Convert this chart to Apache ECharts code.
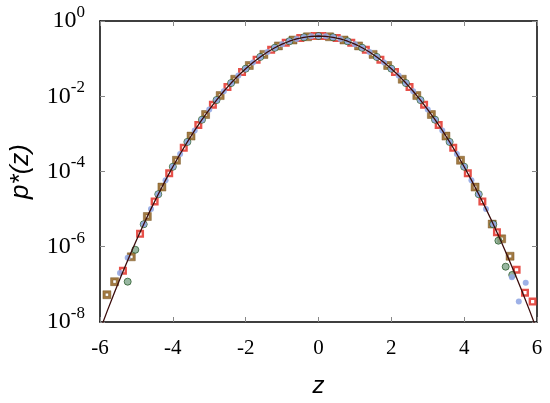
<!DOCTYPE html>
<html>
<head>
<meta charset="utf-8">
<script src="https://cdn.jsdelivr.net/npm/echarts@6/dist/echarts.min.js"></script>
<style>html,body{margin:0;padding:0;background:#fff}#c{width:550px;height:403px}</style>
</head>
<body>
<div id="c"></div>
<script>
// Theoretical curve p*(z)
const lineZ = [-6.0,-5.8,-5.6,-5.4,-5.2,-5.0,-4.8,-4.6,-4.4,-4.2,-4.0,-3.8,-3.6,-3.4,-3.2,-3.0,-2.8,-2.6,-2.4,-2.2,-2.0,-1.8,-1.6,-1.4,-1.2,-1.0,-0.8,-0.6,-0.4,-0.2,0.0,0.2,0.4,0.6,0.8,1.0,1.2,1.4,1.6,1.8,2.0,2.2,2.4,2.6,2.8,3.0,3.2,3.4,3.6,3.8,4.0,4.2,4.4,4.6,4.8,5.0,5.2,5.4,5.6,5.8,6.0];
const lineP = [6.076e-9,1.974e-8,6.176e-8,1.856e-7,5.361e-7,1.487e-6,3.961e-6,1.014e-5,2.494e-5,5.894e-5,1.338e-4,2.920e-4,6.119e-4,1.232e-3,2.384e-3,4.432e-3,7.916e-3,1.358e-2,2.240e-2,3.548e-2,5.399e-2,7.895e-2,0.1109,0.1497,0.1942,0.2420,0.2897,0.3332,0.3683,0.3910,0.3989,0.3910,0.3683,0.3332,0.2897,0.2420,0.1942,0.1497,0.1109,7.895e-2,5.399e-2,3.548e-2,2.240e-2,1.358e-2,7.916e-3,4.432e-3,2.384e-3,1.232e-3,6.119e-4,2.920e-4,1.338e-4,5.894e-5,2.494e-5,1.014e-5,3.961e-6,1.487e-6,5.361e-7,1.856e-7,6.176e-8,1.974e-8,6.076e-9];

// Red squares
const redZ = [-5.37,-4.9,-4.5,-4.1,-3.7,-3.3,-2.9,-2.5,-2.1,-1.7,-1.3,-0.9,-0.5,-0.1,0.1,0.5,0.9,1.3,1.7,2.1,2.5,2.9,3.3,3.7,4.1,4.5,4.9,5.44,5.67,5.88];
const redP = [2.3e-7,2.2e-6,1.60e-5,8.93e-5,4.25e-4,1.72e-3,5.95e-3,0.0175,0.0440,0.0940,0.1714,0.2661,0.3521,0.3970,0.3970,0.3521,0.2661,0.1714,0.0940,0.0440,0.0175,5.95e-3,1.72e-3,4.25e-4,8.93e-5,1.60e-5,2.44e-6,2.45e-7,6.0e-8,3.5e-8];

// Brown squares
const brownZ = [-5.81,-5.6,-5.14,-4.7,-4.3,-3.9,-3.5,-3.1,-2.7,-2.3,-1.9,-1.5,-1.1,-0.7,-0.3,0.3,0.7,1.1,1.5,1.9,2.3,2.7,3.1,3.5,3.9,4.3,4.77,5.03,5.26];
const brownP = [5.3e-8,1.18e-7,5.4e-7,6.37e-6,3.85e-5,1.99e-4,8.73e-4,3.27e-3,0.01042,0.02833,0.06562,0.1295,0.2179,0.3123,0.3814,0.3814,0.3123,0.2179,0.1295,0.06562,0.02833,0.01042,3.27e-3,8.73e-4,1.99e-4,3.85e-5,4.0e-6,1.62e-6,5.6e-7];

// Green circles
const greenZ = [-5.24,-5.03,-4.8,-4.4,-4.0,-3.6,-3.2,-2.8,-2.4,-2.0,-1.6,-1.2,-0.8,-0.4,0.0,0.4,0.8,1.2,1.6,2.0,2.4,2.8,3.2,3.6,4.0,4.4,4.8,4.94,5.14,5.32];
const greenP = [1.18e-7,8.3e-7,3.96e-6,2.49e-5,1.338e-4,6.12e-4,2.384e-3,7.92e-3,0.02240,0.05399,0.1109,0.1942,0.2897,0.3683,0.3989,0.3683,0.2897,0.1942,0.1109,0.05399,0.02240,7.92e-3,2.384e-3,6.12e-4,1.338e-4,2.49e-5,3.96e-6,1.45e-6,2.95e-7,1.78e-7];

// Light blue dots
const blueZ = [-5.45,-5.24,-4.8,-4.6,-4.4,-4.2,-4.0,-3.8,-3.6,-3.4,-3.2,-3.0,-2.8,-2.6,-2.4,-2.2,-2.0,-1.8,-1.6,-1.4,-1.2,-1.0,-0.8,-0.6,-0.4,-0.2,0.0,0.2,0.4,0.6,0.8,1.0,1.2,1.4,1.6,1.8,2.0,2.2,2.4,2.6,2.8,3.0,3.2,3.4,3.6,3.8,4.0,4.2,4.4,4.6,4.8,5.31,5.5,5.69];
const blueP = [2.0e-7,5.1e-7,3.96e-6,1.014e-5,2.49e-5,5.89e-5,1.338e-4,2.92e-4,6.12e-4,1.232e-3,2.384e-3,4.432e-3,7.92e-3,0.01358,0.02240,0.03548,0.05399,0.07895,0.1109,0.1497,0.1942,0.2420,0.2897,0.3332,0.3683,0.3910,0.3989,0.3910,0.3683,0.3332,0.2897,0.2420,0.1942,0.1497,0.1109,0.07895,0.05399,0.03548,0.02240,0.01358,7.92e-3,4.432e-3,2.384e-3,1.232e-3,6.12e-4,2.92e-4,1.338e-4,5.89e-5,2.49e-5,1.014e-5,3.96e-6,1.55e-7,3.5e-8,1.1e-7];

const xTicks = [-6,-4,-2,0,2,4,6];

const pairs = (zs, ps) => zs.map((z, i) => [z, ps[i]]);
const hollowSquare = 'path://M0,0H10V10H0Z M3,3V7H7V3Z';

const chart = echarts.init(document.getElementById('c'), null, {renderer: 'canvas'});
const serif = '"Liberation Serif", serif';
const sans = '"Liberation Sans", sans-serif';

const xBase = {
  type: 'value', min: -6, max: 6, interval: 2,
  axisLine: {show: true, onZero: false, lineStyle: {color: '#000', width: 1.5}},
  axisTick: {show: true, inside: true, length: 5, lineStyle: {color: '#888', width: 1}},
  splitLine: {show: false}
};
const yBase = {
  type: 'log', logBase: 10, min: 1e-8, max: 1, interval: 2,
  axisLine: {show: true, onZero: false, lineStyle: {color: '#000', width: 1.5}},
  axisTick: {show: true, inside: true, length: 5, lineStyle: {color: '#888', width: 1}},
  minorTick: {show: false},
  splitLine: {show: false}
};

chart.setOption({
  animation: false,
  backgroundColor: '#fff',
  grid: {left: 98, right: 13, top: 21, bottom: 74, containLabel: false},
  xAxis: [
    Object.assign({}, xBase, {
      position: 'bottom',
      name: 'z', nameLocation: 'middle', nameGap: 52,
      nameTextStyle: {fontFamily: sans, fontStyle: 'italic', fontSize: 24, color: '#000'},
      axisLabel: {show: true, margin: 16, fontFamily: serif, fontSize: 21, color: '#000',
        customValues: xTicks, formatter: v => String(v)}
    }),
    Object.assign({}, xBase, {position: 'top', axisLabel: {show: false}})
  ],
  yAxis: [
    Object.assign({}, yBase, {
      position: 'left',
      name: 'p*(z)', nameLocation: 'middle', nameGap: 66, nameRotate: 90,
      nameTextStyle: {fontFamily: sans, fontStyle: 'italic', fontSize: 26, color: '#000'},
      axisLabel: {
        show: true, margin: 15, color: '#000',
        formatter: v => '{b|10}{s|' + Math.round(Math.log10(v)) + '}',
        rich: {
          b: {fontFamily: serif, fontSize: 24, lineHeight: 34, verticalAlign: 'middle', color: '#000'},
          s: {fontFamily: serif, fontSize: 17, lineHeight: 16, verticalAlign: 'top', color: '#000'}
        }
      }
    }),
    Object.assign({}, yBase, {position: 'right', axisLabel: {show: false}})
  ],
  series: [
    {
      type: 'scatter', name: 'brown', data: pairs(brownZ, brownP),
      symbol: hollowSquare, symbolSize: 8,
      itemStyle: {color: '#8c5a14', borderColor: '#6a4410', borderWidth: 0.5}, z: 2
    },
    {
      type: 'scatter', name: 'red', data: pairs(redZ, redP),
      symbol: hollowSquare, symbolSize: 8,
      itemStyle: {color: '#e0241c'}, z: 3
    },
    {
      type: 'scatter', name: 'green', data: pairs(greenZ, greenP),
      symbol: 'circle', symbolSize: 7,
      itemStyle: {color: '#7ea58a', borderColor: '#2e5e30', borderWidth: 1}, z: 4
    },
    {
      type: 'scatter', name: 'blue', data: pairs(blueZ, blueP),
      symbol: 'circle', symbolSize: 6,
      itemStyle: {color: '#93a9e4', opacity: 0.9}, z: 5
    },
    {
      type: 'line', name: 'theory', data: pairs(lineZ, lineP),
      showSymbol: false, symbol: 'none', smooth: false, clip: true,
      lineStyle: {color: '#3a0c0c', width: 1.3}, z: 6
    }
  ]
});
</script>
</body>
</html>
